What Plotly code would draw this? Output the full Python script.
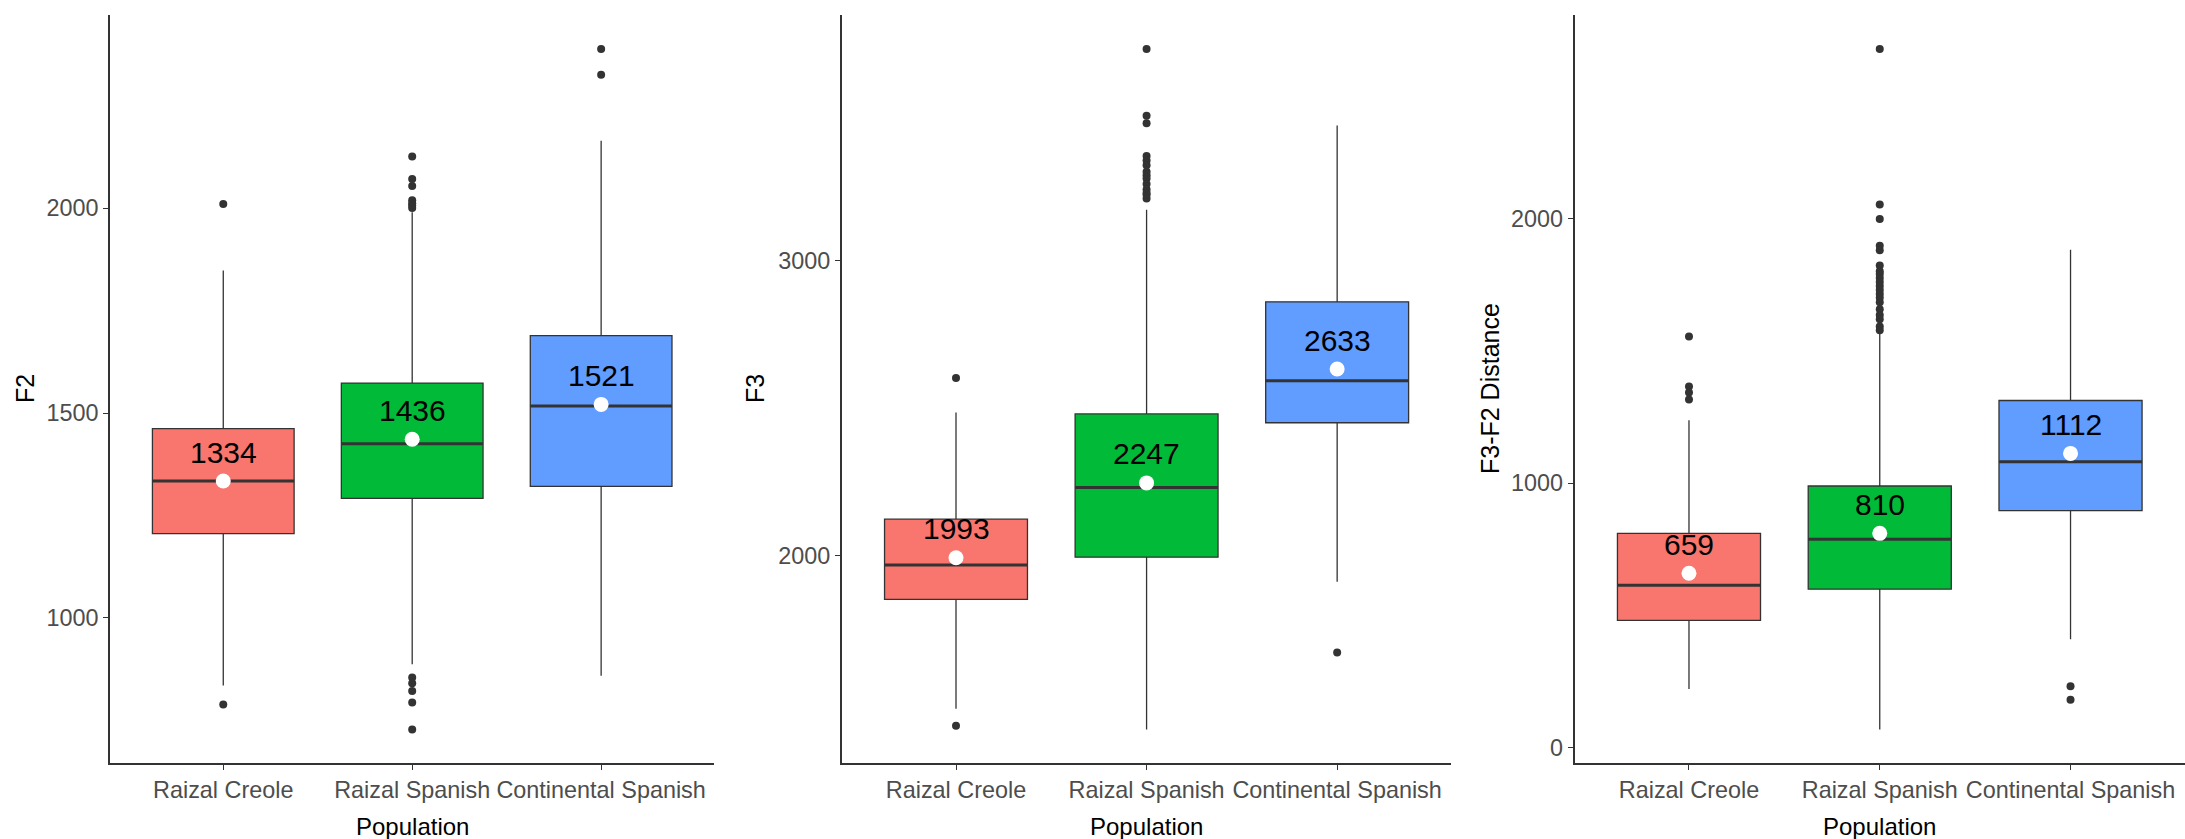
import plotly.graph_objects as go

# Population groups and per-group summary statistics for each acoustic measure
categories = ["Raizal Creole", "Raizal Spanish", "Continental Spanish"]
fill_colors = ["#F8766D", "#00BA38", "#619CFF"]

# F2 (Hz)
f2_q1 = [1206, 1292, 1321]
f2_median = [1334, 1425, 1517]
f2_q3 = [1462, 1573, 1689]
f2_lower = [835, 887, 859]
f2_upper = [1848, 1990, 2164]
f2_mean = [1334, 1436, 1521]
f2_outliers = [
    [2010, 789],
    [2126, 2071, 2054, 2019, 2012, 2006, 2000, 855, 841, 822, 794, 728],
    [2388, 2325],
]

# F3 (Hz)
f3_q1 = [1852, 1995, 2451]
f3_median = [1969, 2231, 2593]
f3_q3 = [2124, 2481, 2861]
f3_lower = [1481, 1411, 1912]
f3_upper = [2486, 3173, 3459]
f3_mean = [1993, 2247, 2633]
f3_outliers = [
    [2603, 1424],
    [3718, 3492, 3466, 3355, 3340, 3324, 3302, 3290, 3279, 3260, 3242, 3230, 3224, 3211],
    [1672],
]

# F3-F2 distance (Hz)
d_q1 = [481, 599, 896]
d_median = [614, 788, 1081]
d_q3 = [810, 989, 1312]
d_lower = [222, 69, 410]
d_upper = [1237, 1565, 1882]
d_mean = [659, 810, 1112]
d_outliers = [
    [1554, 1365, 1342, 1316],
    [2640, 2053, 1998, 1897, 1880, 1822, 1800, 1790, 1775, 1760, 1745, 1730,
     1714, 1700, 1683, 1657, 1635, 1619, 1592, 1577],
    [232, 181],
]

panels = [
    dict(title="F2", q1=f2_q1, med=f2_median, q3=f2_q3, lo=f2_lower, hi=f2_upper,
         mean=f2_mean, out=f2_outliers, ticks=[1000, 1500, 2000],
         xdom=[0.0503, 0.3270], ytitle_x=25),
    dict(title="F3", q1=f3_q1, med=f3_median, q3=f3_q3, lo=f3_lower, hi=f3_upper,
         mean=f3_mean, out=f3_outliers, ticks=[2000, 3000],
         xdom=[0.3852, 0.6643], ytitle_x=755),
    dict(title="F3-F2 Distance", q1=d_q1, med=d_median, q3=d_q3, lo=d_lower, hi=d_upper,
         mean=d_mean, out=d_outliers, ticks=[0, 1000, 2000],
         xdom=[0.7206, 1.0], ytitle_x=1490),
]

W, H = 2185, 839
FONT = "Liberation Sans, Arial, sans-serif"
DARK = "#333333"
BOX_W = 0.75
positions = [1, 2, 3]
ydom = [0.0900, 0.9821]

fig = go.Figure()
annotations = []

for p_i, p in enumerate(panels):
    sfx = "" if p_i == 0 else str(p_i + 1)
    xa, ya = "x" + sfx, "y" + sfx

    for i, pos in enumerate(positions):
        # box and whiskers from the summary statistics
        fig.add_trace(go.Box(
            x=[pos], q1=[p["q1"][i]], median=[p["med"][i]], q3=[p["q3"][i]],
            lowerfence=[p["lo"][i]], upperfence=[p["hi"][i]],
            width=BOX_W, whiskerwidth=0, boxpoints=False,
            fillcolor=fill_colors[i], line=dict(color=DARK, width=1.3),
            xaxis=xa, yaxis=ya, showlegend=False, hoverinfo="skip",
        ))
        # heavier median bar
        fig.add_trace(go.Scatter(
            x=[pos - BOX_W / 2, pos + BOX_W / 2], y=[p["med"][i], p["med"][i]],
            mode="lines", line=dict(color=DARK, width=3),
            xaxis=xa, yaxis=ya, showlegend=False, hoverinfo="skip",
        ))
        # outlying observations
        outs = p["out"][i]
        fig.add_trace(go.Scatter(
            x=[pos] * len(outs), y=outs, mode="markers",
            marker=dict(color=DARK, size=8),
            xaxis=xa, yaxis=ya, showlegend=False, hoverinfo="skip",
        ))
        # group mean
        fig.add_trace(go.Scatter(
            x=[pos], y=[p["mean"][i]], mode="markers",
            marker=dict(color="white", size=15),
            xaxis=xa, yaxis=ya, showlegend=False, hoverinfo="skip",
        ))
        annotations.append(dict(
            x=pos, y=p["mean"][i], xref=xa, yref=ya, text=str(p["mean"][i]),
            showarrow=False, yshift=29, yanchor="middle",
            font=dict(family=FONT, size=30, color="black"),
        ))

    # y range: data extent plus 5% padding on each side
    vals = p["lo"] + p["hi"] + [v for grp in p["out"] for v in grp]
    lo, hi = min(vals), max(vals)
    pad = 0.05 * (hi - lo)

    axis_common = dict(
        showline=True, linecolor=DARK, linewidth=1.6, showgrid=False, zeroline=False,
        ticks="outside", ticklen=5, tickwidth=1.2, tickcolor=DARK,
        tickfont=dict(family=FONT, size=23.4, color="#4D4D4D"),
        automargin=False,
    )
    fig.layout["xaxis" + sfx] = dict(
        axis_common, domain=p["xdom"], range=[0.4, 3.6], tickangle=0,
        tickvals=positions, ticktext=categories, anchor=ya,
    )
    fig.layout["yaxis" + sfx] = dict(
        axis_common, domain=ydom, range=[lo - pad, hi + pad],
        tickvals=p["ticks"], anchor=xa,
    )

    # axis titles
    annotations.append(dict(
        x=p["ytitle_x"] / W, y=(H - 389) / H, xref="paper", yref="paper",
        text=p["title"], textangle=-90, showarrow=False,
        xanchor="center", yanchor="middle",
        font=dict(family=FONT, size=25, color="black"),
    ))
    annotations.append(dict(
        x=2, y=(H - 826) / H, xref=xa, yref="paper", text="Population",
        showarrow=False, xanchor="center", yanchor="middle",
        font=dict(family=FONT, size=24, color="black"),
    ))

fig.update_layout(
    width=W, height=H, margin=dict(l=0, r=0, t=0, b=0),
    plot_bgcolor="white", paper_bgcolor="white",
    annotations=annotations, showlegend=False,
)

fig.write_html("out.html")
